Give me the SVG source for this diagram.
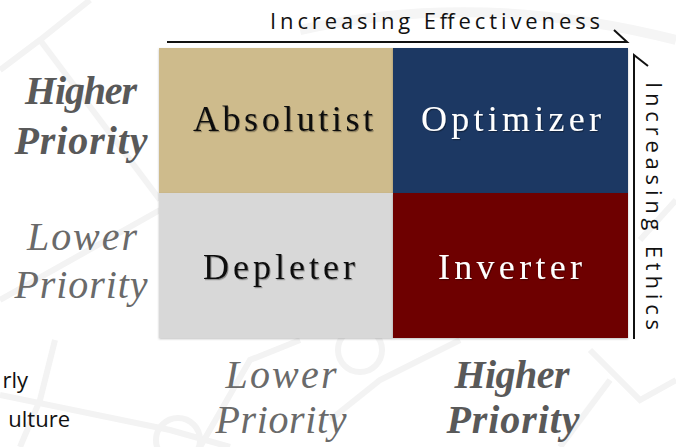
<svg xmlns="http://www.w3.org/2000/svg" width="676" height="447" viewBox="0 0 676 447">
<defs>
<filter id="sh" x="-10%" y="-30%" width="120%" height="160%">
<feDropShadow dx="1" dy="1.2" stdDeviation="0.7" flood-color="#000" flood-opacity="0.35"/>
</filter>
<filter id="cs" x="-5%" y="-5%" width="110%" height="110%">
<feDropShadow dx="0" dy="1" stdDeviation="1" flood-color="#000" flood-opacity="0.25"/>
</filter>
</defs>
<style>
.bg{fill:none;stroke:#f3f3f3;stroke-width:6}
.cell{font-family:"Liberation Serif",serif;font-size:36px;text-anchor:middle}
.ax{font-family:"Open Sans","Noto Sans",sans-serif;font-size:22px;fill:#111}
.hi{font-family:"Liberation Serif",serif;font-size:40px;font-style:italic;font-weight:bold;fill:#595959;text-anchor:middle}
.lo{font-family:"Liberation Serif",serif;font-size:40px;font-style:italic;fill:#6a6a6a;text-anchor:middle}
.arr{fill:none;stroke:#111;stroke-width:2}
.side{font-family:"Open Sans","Noto Sans",sans-serif;font-size:22px;fill:#111}
.cut{font-family:"Open Sans","Noto Sans",sans-serif;font-size:22px;fill:#111;text-anchor:end}
</style>
<rect width="676" height="447" fill="#fff"/>
<g id="background">
<path class="bg" d="M0,70 L40,40 L90,0"/>
<path class="bg" d="M40,40 L160,200"/>
<path class="bg" d="M0,300 L160,210"/>
<path class="bg" d="M20,447 L40,400 L55,340"/>
<path class="bg" d="M0,395 L170,430 L230,447"/>
<path class="bg" d="M200,447 L250,360 L300,340"/>
<circle class="bg" cx="178" cy="440" r="22"/>
<circle class="bg" cx="360" cy="350" r="22"/>
<path class="bg" d="M330,420 L380,380 L460,340"/>
<path class="bg" d="M590,350 L640,400 L676,380"/>
<path class="bg" d="M560,447 L610,380"/>
<path class="bg" d="M640,240 L676,200"/>
<path d="M300,30 Q480,-10 676,40" fill="none" stroke="#f5f5f5" stroke-width="10"/>
</g>
<g id="absolutist">
<rect x="159" y="48" width="234" height="145" fill="#CEBB8C" filter="url(#cs)"/>
<text class="cell" x="283" y="131" fill="#111" filter="url(#sh)" textLength="180" lengthAdjust="spacing">Absolutist</text>
</g>
<g id="optimizer">
<rect x="393" y="48" width="235" height="145" fill="#1F3864" filter="url(#cs)"/>
<text class="cell" x="511" y="131" fill="#fff" filter="url(#sh)" textLength="180" lengthAdjust="spacing">Optimizer</text>
</g>
<g id="depleter">
<rect x="159" y="193" width="234" height="145" fill="#D8D8D8" filter="url(#cs)"/>
<text class="cell" x="279" y="279" fill="#111" filter="url(#sh)" textLength="152" lengthAdjust="spacing">Depleter</text>
</g>
<g id="inverter">
<rect x="393" y="193" width="235" height="145" fill="#6E0000" filter="url(#cs)"/>
<text class="cell" x="510" y="279" fill="#fff" filter="url(#sh)" textLength="144" lengthAdjust="spacing">Inverter</text>
</g>
<g id="axis-effectiveness">
<text class="ax" x="270" y="29" textLength="330" lengthAdjust="spacing">Increasing Effectiveness</text>
</g>
<g id="axis-ethics">
<text class="side" transform="translate(646,82) rotate(90)" textLength="248" lengthAdjust="spacing">Increasing Ethics</text>
</g>
<g id="connectors">
<path class="arr" d="M167,42 L627,42 L614,30"/>
<path class="arr" d="M634,339 L634,55 L648,66"/>
</g>
<g id="row-labels">
<text class="hi" x="81" y="104" textLength="112" lengthAdjust="spacing">Higher</text>
<text class="hi" x="81" y="154" textLength="133" lengthAdjust="spacing">Priority</text>
<text class="lo" x="82" y="250" textLength="110" lengthAdjust="spacing">Lower</text>
<text class="lo" x="81" y="298" textLength="133" lengthAdjust="spacing">Priority</text>
</g>
<g id="col-labels">
<text class="lo" x="281" y="388" textLength="111" lengthAdjust="spacing">Lower</text>
<text class="lo" x="281" y="433" textLength="131" lengthAdjust="spacing">Priority</text>
<text class="hi" x="512" y="388" textLength="115" lengthAdjust="spacing">Higher</text>
<text class="hi" x="513" y="433" textLength="133" lengthAdjust="spacing">Priority</text>
</g>
<g id="cut-text">
<text class="cut" x="28" y="388">rly</text>
<text class="cut" x="70" y="427">ulture</text>
</g>
</svg>
